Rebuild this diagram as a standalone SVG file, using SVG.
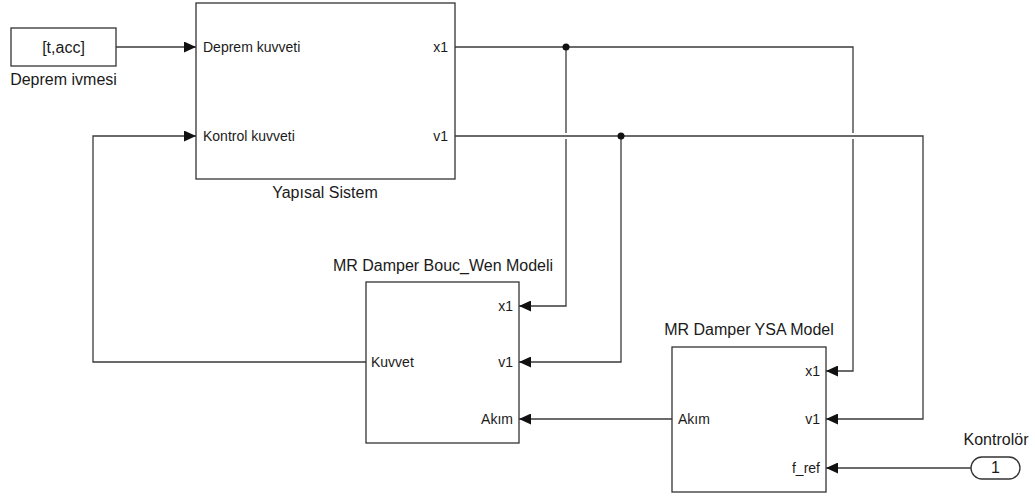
<svg xmlns="http://www.w3.org/2000/svg" width="1035" height="497" viewBox="0 0 1035 497">
<style>
.blk{fill:#fff;stroke:#333;stroke-width:1.3}
.ln{fill:none;stroke:#3a3a3a;stroke-width:1.3}
.ar{fill:none;stroke:#3a3a3a;stroke-width:1.3;marker-end:url(#arr)}
.t{font-family:"Liberation Sans",Arial,sans-serif;fill:#1a1a1a}
.nm{font-size:16px;text-anchor:middle}
.pl{font-size:14px}
.pr{font-size:14px;text-anchor:end}
.dot{fill:#111}
</style>
<defs>
<marker id="arr" viewBox="0 0 12 11" refX="12" refY="5.5" markerWidth="12" markerHeight="11" markerUnits="userSpaceOnUse" orient="auto">
<path d="M0,0 L12,5.5 L0,11 z" fill="#111"/>
</marker>
</defs>
<rect width="1035" height="497" fill="#fff"/>
<g id="connectors">
<path class="ar" d="M116,47 H196"/>
<path class="ln" d="M455,47 H853 V133"/>
<path class="ar" d="M853,139 V371 H826"/>
<path class="ln" d="M566,47 V133"/>
<path class="ar" d="M566,139 V306 H519"/>
<path class="ar" d="M455,136 H923 V419 H826"/>
<path class="ar" d="M621,136 V362 H519"/>
<path class="ar" d="M366,362 H93 V136 H196"/>
<path class="ar" d="M672,419 H519"/>
<path class="ar" d="M971,468 H826"/>
<circle class="dot" cx="566" cy="47" r="3.5"/>
<circle class="dot" cx="621" cy="136" r="3.5"/>
</g>
<g id="deprem-ivmesi">
<rect class="blk" x="11" y="28" width="105" height="38"/>
<text class="t nm" x="63.5" y="52.5" font-size="14">[t,acc]</text>
<text class="t nm" x="63.5" y="85">Deprem ivmesi</text>
</g>
<g id="yapisal-sistem">
<rect class="blk" x="196" y="3" width="259" height="176"/>
<text class="t pl" x="203" y="52">Deprem kuvveti</text>
<text class="t pl" x="203" y="141">Kontrol kuvveti</text>
<text class="t pr" x="448" y="52">x1</text>
<text class="t pr" x="448" y="141">v1</text>
<text class="t nm" x="325" y="198">Yapısal Sistem</text>
</g>
<g id="bouc-wen">
<text class="t nm" x="443" y="271">MR Damper Bouc_Wen Modeli</text>
<rect class="blk" x="366" y="282" width="153" height="161"/>
<text class="t pr" x="513" y="311">x1</text>
<text class="t pr" x="513" y="367">v1</text>
<text class="t pr" x="513" y="424">Akım</text>
<text class="t pl" x="371" y="367">Kuvvet</text>
</g>
<g id="ysa-model">
<text class="t nm" x="749" y="335">MR Damper YSA Model</text>
<rect class="blk" x="672" y="347" width="154" height="145"/>
<text class="t pr" x="820" y="376">x1</text>
<text class="t pr" x="820" y="424">v1</text>
<text class="t pr" x="820" y="473">f_ref</text>
<text class="t pl" x="678" y="424">Akım</text>
</g>
<g id="kontrolor">
<text class="t nm" x="996" y="445">Kontrolör</text>
<rect class="blk" x="971" y="457" width="49" height="22" rx="11"/>
<text class="t nm" x="995.5" y="473" font-size="14">1</text>
</g>
</svg>
